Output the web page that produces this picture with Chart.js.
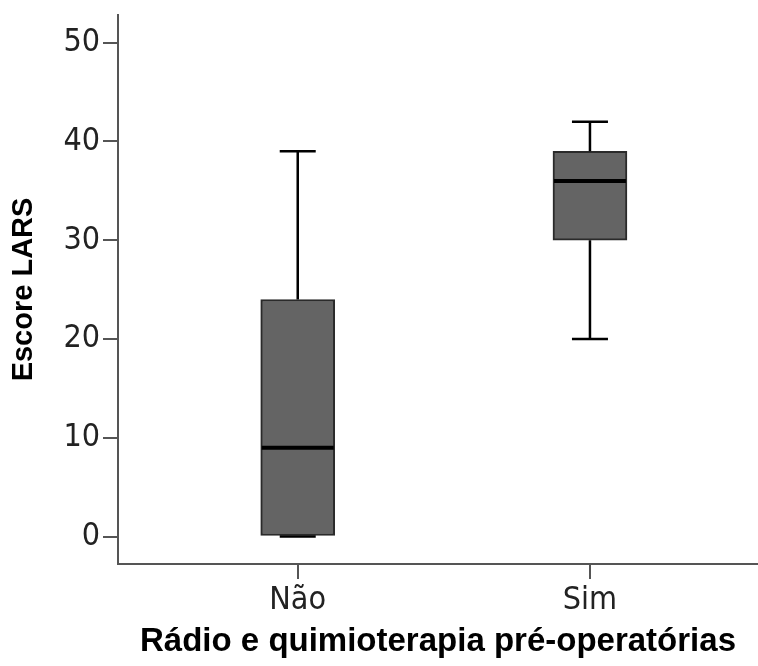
<!DOCTYPE html>
<html>
<head>
<meta charset="utf-8">
<script src="https://cdn.jsdelivr.net/npm/chart.js@4/dist/chart.umd.min.js"></script>
<style>
  html, body { margin: 0; padding: 0; background: #fff; }
  #wrap { width: 758px; height: 666px; }
</style>
</head>
<body>
<div id="wrap"><canvas id="BoxChart"></canvas></div>
<script>
const categories = ["Não", "Sim"];
const whiskerMin = [0, 20];
const quartile1 = [0, 30];
const medians = [9, 36];
const quartile3 = [24, 39];
const whiskerMax = [39, 42];
const yTicks = [0, 10, 20, 30, 40, 50];

const boxData = categories.map((c, i) => ({ x: i + 1, y: [quartile1[i], quartile3[i]] }));

// whiskers, caps and median lines on top of the floating bars
const boxExtras = {
  id: "boxExtras",
  afterDatasetsDraw(chart) {
    const ctx = chart.ctx;
    const xs = chart.scales.x;
    const ys = chart.scales.y;
    const boxW = 74;
    const capW = 36;
    ctx.save();
    ctx.strokeStyle = "#000";
    categories.forEach((c, i) => {
      const cx = xs.getPixelForValue(i + 1);
      const yMin = ys.getPixelForValue(whiskerMin[i]);
      const yQ1 = ys.getPixelForValue(quartile1[i]);
      const yMed = ys.getPixelForValue(medians[i]);
      const yQ3 = ys.getPixelForValue(quartile3[i]);
      const yMax = ys.getPixelForValue(whiskerMax[i]);

      ctx.lineWidth = 2.5;
      ctx.beginPath();
      ctx.moveTo(cx, yQ3); ctx.lineTo(cx, yMax);
      ctx.moveTo(cx, yQ1); ctx.lineTo(cx, yMin);
      ctx.stroke();

      ctx.beginPath();
      ctx.moveTo(cx - capW / 2, yMax); ctx.lineTo(cx + capW / 2, yMax);
      ctx.moveTo(cx - capW / 2, yMin); ctx.lineTo(cx + capW / 2, yMin);
      ctx.stroke();

      ctx.lineWidth = 4;
      ctx.beginPath();
      ctx.moveTo(cx - boxW / 2 + 1, yMed); ctx.lineTo(cx + boxW / 2 - 1, yMed);
      ctx.stroke();
    });
    ctx.restore();
  },
};

const axisColor = "#555";
const tickFont = { family: "DejaVu Sans Condensed", size: 32 };

const ctx = document.getElementById("BoxChart").getContext("2d");
new Chart(ctx, {
  type: "bar",
  data: {
    datasets: [
      {
        data: boxData,
        backgroundColor: "#646464",
        borderColor: "#2a2a2a",
        borderWidth: 2,
        borderSkipped: false,
        barThickness: 74,
      },
    ],
  },
  options: {
    responsive: true,
    maintainAspectRatio: false,
    animation: false,
    layout: { padding: { top: 15, right: 0, left: 0, bottom: 0 } },
    plugins: {
      legend: { display: false },
      tooltip: { enabled: false },
    },
    scales: {
      x: {
        type: "linear",
        offset: false,
        min: 0.385,
        max: 2.575,
        afterBuildTicks: (scale) => {
          scale.ticks = categories.map((c, i) => ({ value: i + 1 }));
        },
        afterFit: (scale) => {
          scale.height = 102;
          scale.paddingLeft = 0;
          scale.paddingRight = 0;
        },
        ticks: {
          callback: (v) => categories[v - 1],
          font: tickFont,
          color: "#222",
          padding: 2,
          maxRotation: 0,
        },
        grid: { offset: false, drawOnChartArea: false, drawTicks: true, tickLength: 15, color: axisColor, lineWidth: 2 },
        border: { display: true, color: axisColor, width: 2 },
        title: {
          display: true,
          text: "Rádio e quimioterapia pré-operatórias",
          font: { family: "Liberation Sans", size: 33, weight: "bold" },
          color: "#000",
          padding: { top: 0, bottom: 4 },
        },
      },
      y: {
        min: -2.78,
        max: 52.8,
        afterBuildTicks: (scale) => {
          scale.ticks = yTicks.map((v) => ({ value: v }));
        },
        afterFit: (scale) => {
          scale.width = 118;
          scale.paddingTop = 0;
          scale.paddingBottom = 0;
        },
        ticks: {
          font: tickFont,
          color: "#222",
          padding: 3,
        },
        grid: { drawOnChartArea: false, drawTicks: true, tickLength: 15, color: axisColor, lineWidth: 2 },
        border: { display: true, color: axisColor, width: 2 },
        title: {
          display: true,
          text: "Escore LARS",
          font: { family: "Liberation Sans", size: 29, weight: "bold" },
          color: "#000",
          padding: { top: 7, bottom: 0 },
        },
      },
    },
  },
  plugins: [boxExtras],
});
</script>
</body>
</html>
